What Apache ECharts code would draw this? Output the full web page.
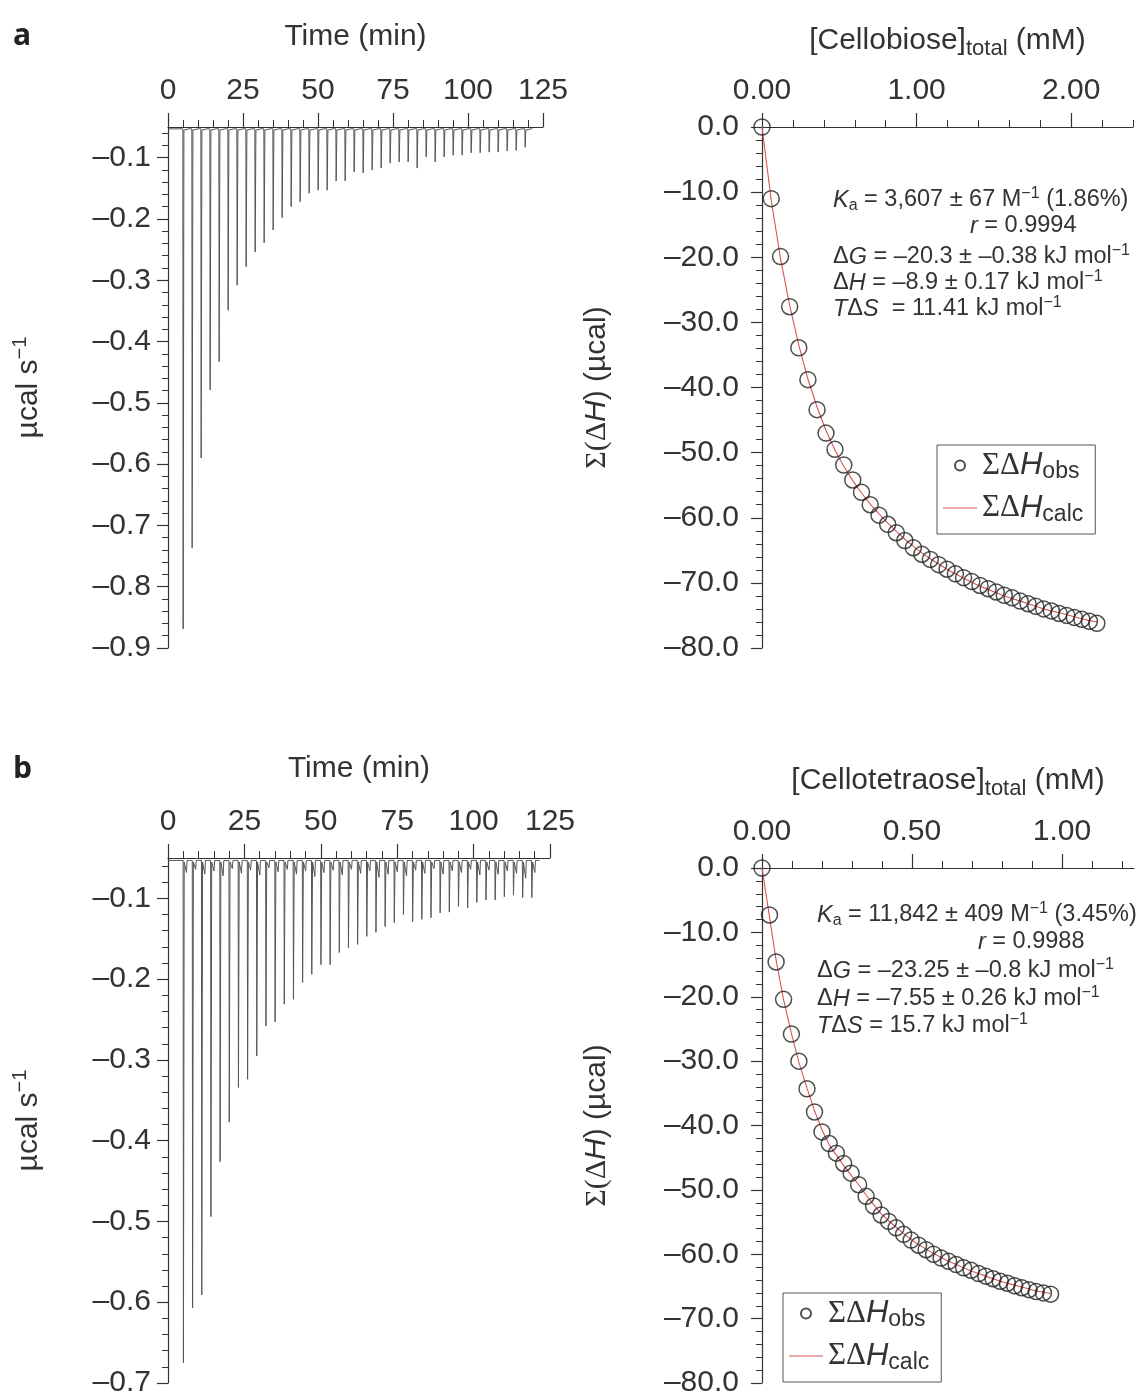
<!DOCTYPE html>
<html>
<head>
<meta charset="utf-8">
<script src="https://cdn.jsdelivr.net/npm/echarts@6/dist/echarts.min.js"></script>
<style>
  html, body { margin: 0; padding: 0; background: #fff; }
  #main { width: 1138px; height: 1398px; }
</style>
</head>
<body>
<div id="main"></div>
<script>
// ---- panel a, left: raw ITC thermogram (cellobiose) ----
var injTimeA = [5, 8, 11, 14, 17, 20, 23, 26, 29, 32, 35, 38, 41, 44, 47, 50, 53, 56, 59, 62,
  65, 68, 71, 74, 77, 80, 83, 86, 89, 92, 95, 98, 101, 104, 107, 110, 113, 116, 119];
var peakA = [-0.869, -0.737, -0.590, -0.479, -0.433, -0.349, -0.308, -0.278, -0.254, -0.239,
  -0.218, -0.198, -0.180, -0.172, -0.158, -0.153, -0.153, -0.138, -0.138, -0.123,
  -0.125, -0.120, -0.117, -0.109, -0.107, -0.107, -0.117, -0.099, -0.107, -0.099,
  -0.096, -0.096, -0.092, -0.092, -0.091, -0.091, -0.089, -0.088, -0.083];
var baseA = -0.053;

// ---- panel b, left: raw ITC thermogram (cellotetraose) ----
var injTimeB = [5, 8, 11, 14, 17, 20, 23, 26, 29, 32, 35, 38, 41, 44, 47, 50, 53, 56, 59, 62,
  65, 68, 71, 74, 77, 80, 83, 86, 89, 92, 95, 98, 101, 104, 107, 110, 113, 116, 119];
var peakB = [-0.675, -0.607, -0.591, -0.494, -0.426, -0.377, -0.334, -0.324, -0.295, -0.258,
  -0.253, -0.231, -0.225, -0.204, -0.194, -0.182, -0.182, -0.167, -0.161, -0.157,
  -0.147, -0.142, -0.135, -0.130, -0.120, -0.129, -0.126, -0.124, -0.118, -0.117,
  -0.110, -0.112, -0.105, -0.102, -0.102, -0.098, -0.096, -0.099, -0.099];
// small baseline wiggles after each injection
var wiggleB = [-0.068, -0.064, -0.070, -0.066, -0.072, -0.063, -0.069, -0.065, -0.071, -0.062,
  -0.067, -0.064, -0.070, -0.066, -0.073, -0.068, -0.065, -0.071, -0.064, -0.069,
  -0.066, -0.074, -0.070, -0.067, -0.072, -0.065, -0.069, -0.063, -0.070, -0.066,
  -0.068, -0.064, -0.071, -0.065, -0.070, -0.066, -0.069, -0.075, -0.068];
var baseB = -0.053;

// ---- panel a, right: cumulative heat vs [cellobiose] ----
var concA = [0, 0.06, 0.12, 0.179, 0.238, 0.297, 0.356, 0.414, 0.472, 0.529, 0.587, 0.644, 0.7,
  0.757, 0.813, 0.869, 0.924, 0.979, 1.034, 1.089, 1.143, 1.197, 1.251, 1.304, 1.357, 1.41,
  1.463, 1.515, 1.567, 1.618, 1.67, 1.721, 1.771, 1.822, 1.872, 1.922, 1.971, 2.02, 2.069,
  2.118, 2.166];
var obsA = [0, -11.0, -19.9, -27.6, -33.9, -38.8, -43.4, -47.0, -49.5, -51.9, -54.2, -56.1,
  -58.0, -59.6, -61.0, -62.3, -63.5, -64.6, -65.6, -66.4, -67.2, -67.9, -68.6, -69.2, -69.8,
  -70.4, -70.9, -71.4, -71.9, -72.3, -72.8, -73.2, -73.6, -74.0, -74.3, -74.7, -75.0, -75.3,
  -75.6, -75.9, -76.2];
var calcA = [0, -11.3, -20.2, -27.4, -33.5, -38.7, -43.0, -46.6, -49.6, -52.1, -54.3, -56.2,
  -57.9, -59.4, -60.8, -62.1, -63.3, -64.4, -65.4, -66.3, -67.1, -67.9, -68.6, -69.3, -69.9,
  -70.5, -71.0, -71.5, -72.0, -72.4, -72.8, -73.2, -73.6, -74.0, -74.3, -74.6, -74.9, -75.2,
  -75.5, -75.8, -76.0];

// ---- panel b, right: cumulative heat vs [cellotetraose] ----
var concB = [0, 0.025, 0.047, 0.072, 0.098, 0.123, 0.15, 0.175, 0.2, 0.224, 0.248, 0.272,
  0.297, 0.322, 0.347, 0.372, 0.397, 0.422, 0.447, 0.472, 0.497, 0.522, 0.547, 0.572, 0.597,
  0.622, 0.647, 0.672, 0.697, 0.722, 0.746, 0.77, 0.794, 0.818, 0.842, 0.866, 0.89, 0.914,
  0.938, 0.962];
var obsB = [0, -7.3, -14.6, -20.4, -25.8, -30.0, -34.3, -37.9, -41.0, -42.8, -44.3, -45.9,
  -47.4, -49.2, -51.0, -52.5, -53.9, -54.9, -55.9, -56.9, -57.8, -58.6, -59.3, -60.0, -60.6,
  -61.1, -61.6, -62.1, -62.5, -63.0, -63.4, -63.8, -64.2, -64.5, -64.9, -65.2, -65.5, -65.8,
  -66.0, -66.2];
var calcB = [0, -7.6, -14.3, -20.5, -25.7, -30.2, -34.2, -37.7, -40.7, -43.0, -44.6, -46.2,
  -47.7, -49.2, -50.8, -52.3, -53.7, -54.8, -55.8, -56.8, -57.7, -58.5, -59.2, -59.9, -60.5,
  -61.1, -61.6, -62.1, -62.6, -63.0, -63.4, -63.8, -64.2, -64.5, -64.8, -65.1, -65.4, -65.7,
  -65.9, -66.1];

// ---- tick labels ----
var timeTicks = [0, 25, 50, 75, 100, 125];
var powerTicksA = [-0.9, -0.8, -0.7, -0.6, -0.5, -0.4, -0.3, -0.2, -0.1];
var powerTicksB = [-0.7, -0.6, -0.5, -0.4, -0.3, -0.2, -0.1];
var heatTicks = [-80, -70, -60, -50, -40, -30, -20, -10, 0];
var concTicksA = [0, 1, 2];
var concTicksB = [0, 0.5, 1];

var FONT = '"Liberation Sans", Arial, sans-serif';
var INK = '#333';
var FIT_RED = '#d65555';

function steps(from, to, step) {
  var out = [];
  var n = Math.round((to - from) / step);
  for (var i = 0; i <= n; i++) out.push(+(from + i * step).toFixed(4));
  return out;
}

function fmt(digits) {
  return function (v) { return (v < 0 ? '\u2013' : '') + Math.abs(v).toFixed(digits); };
}

// thermogram line: flat baseline with a sharp dip at every injection
function thermogram(times, depths, base, wiggles) {
  var pts = [[0.2, base]];
  times.forEach(function (t, i) {
    pts.push([t - 0.05, base]);
    pts.push([t + 0.05, depths[i]]);
    pts.push([t + 0.3, base - 0.002]);
    if (wiggles) {
      pts.push([t + 0.9, base]);
      pts.push([t + 1.05, wiggles[i]]);
      pts.push([t + 1.25, base]);
    }
    pts.push([t + 2.0, base]);
  });
  pts.push([121.5, base]);
  return pts;
}

function zip(xs, ys) {
  return xs.map(function (x, i) { return [x, ys[i]]; });
}

var nameRich = {
  t: { fontSize: 30, fontFamily: FONT, color: INK, lineHeight: 38, verticalAlign: 'middle' },
  it: { fontSize: 30, fontFamily: FONT, fontStyle: 'italic', color: INK, lineHeight: 38, verticalAlign: 'middle' },
  sg: { fontSize: 30, fontFamily: '"Liberation Serif", serif', color: INK, lineHeight: 38, verticalAlign: 'middle' },
  sub: { fontSize: 22, fontFamily: FONT, color: INK, lineHeight: 22, verticalAlign: 'bottom' },
  sup: { fontSize: 20, fontFamily: FONT, color: INK, lineHeight: 20, verticalAlign: 'top' }
};

function topAxes(grid, min, max, ticks, minors, digits, name, gap) {
  return [{
    type: 'value', gridIndex: grid, position: 'top', min: min, max: max,
    axisLine: { show: true, onZero: false, lineStyle: { color: INK, width: 1.2 } },
    axisTick: { show: true, length: 14, customValues: ticks, lineStyle: { color: INK, width: 1.2 } },
    axisLabel: { customValues: ticks, formatter: fmt(digits), fontSize: 30, fontFamily: FONT, color: INK, margin: 21 },
    splitLine: { show: false },
    name: name, nameLocation: 'middle', nameGap: gap,
    nameTextStyle: { fontSize: 30, fontFamily: FONT, color: INK, rich: nameRich }
  }, {
    type: 'value', gridIndex: grid, position: 'top', min: min, max: max,
    axisLine: { show: false },
    axisTick: { show: true, length: 7, customValues: minors, lineStyle: { color: INK, width: 1 } },
    axisLabel: { show: false }, splitLine: { show: false }
  }];
}

function leftAxes(grid, min, max, ticks, minors, digits, margin, name, gap) {
  return [{
    type: 'value', gridIndex: grid, position: 'left', min: min, max: max,
    axisLine: { show: true, onZero: false, lineStyle: { color: INK, width: 1.2 } },
    axisTick: { show: true, length: 11, customValues: ticks, lineStyle: { color: INK, width: 1.2 } },
    axisLabel: { customValues: ticks, formatter: fmt(digits), fontSize: 30, fontFamily: FONT, color: INK, margin: margin },
    splitLine: { show: false },
    name: name, nameLocation: 'middle', nameGap: gap, nameRotate: 90,
    nameTextStyle: { fontSize: 30, fontFamily: FONT, color: INK, rich: nameRich }
  }, {
    type: 'value', gridIndex: grid, position: 'left', min: min, max: max,
    axisLine: { show: false },
    axisTick: { show: true, length: 6, customValues: minors, lineStyle: { color: INK, width: 1 } },
    axisLabel: { show: false }, splitLine: { show: false }
  }];
}

var legendRich = {
  s: { fontFamily: '"Liberation Serif", serif', fontSize: 31, color: INK, lineHeight: 36, verticalAlign: 'middle' },
  i: { fontFamily: FONT, fontStyle: 'italic', fontSize: 31, color: INK, lineHeight: 36, verticalAlign: 'middle' },
  b: { fontFamily: FONT, fontSize: 23, color: INK, lineHeight: 23, verticalAlign: 'bottom' }
};

function legendFor(obsName, calcName, left, top) {
  return {
    data: [
      { name: obsName, icon: 'circle' },
      { name: calcName, icon: 'path://M0,0 L36,0 L36,1.3 L0,1.3 Z' }
    ],
    orient: 'vertical', left: left, top: top,
    itemWidth: 34, itemHeight: 10, itemGap: 9,
    padding: [5, 12, 8, 6],
    borderColor: '#555', borderWidth: 1,
    selectedMode: false,
    formatter: function (n) {
      return n === obsName ? '{s|\u03A3\u0394}{i|H}{b|obs}' : '{s|\u03A3\u0394}{i|H}{b|calc}';
    },
    textStyle: { rich: legendRich }
  };
}

var annRich = {
  t: { fontSize: 23.5, fontFamily: FONT, fill: INK, lineHeight: 28, verticalAlign: 'middle' },
  i: { fontSize: 23.5, fontFamily: FONT, fontStyle: 'italic', fill: INK, lineHeight: 28, verticalAlign: 'middle' },
  sub: { fontSize: 16, fontFamily: FONT, fill: INK, lineHeight: 16, verticalAlign: 'bottom' },
  sup: { fontSize: 16, fontFamily: FONT, fill: INK, lineHeight: 16, verticalAlign: 'top' }
};

function ann(left, top, text) {
  return { type: 'text', left: left, top: top, style: { text: text, rich: annRich, fill: INK } };
}

var xAxes = []
  .concat(topAxes(0, 0, 125, timeTicks, steps(0, 125, 5), 0, '{t|Time (min)}', 71))
  .concat(topAxes(1, 0, 2.4, concTicksA, steps(0, 2.4, 0.2), 2, '{t|[Cellobiose]}{sub|total}{t| (mM)}', 67))
  .concat(topAxes(2, 0, 125, timeTicks, steps(0, 125, 5), 0, '{t|Time (min)}', 70))
  .concat(topAxes(3, 0, 1.24, concTicksB, steps(0, 1.2, 0.1), 2, '{t|[Cellotetraose]}{sub|total}{t| (mM)}', 68));

var yAxes = []
  .concat(leftAxes(0, -0.9, -0.05, powerTicksA, steps(-0.9, -0.06, 0.02), 1, 17, '{t|\u00B5cal s}{sup|\u22121}', 120))
  .concat(leftAxes(1, -80, 0, heatTicks, steps(-80, 0, 2), 1, 23, '{sg|\u03A3(\u0394}{it|H}{t|) (\u00B5cal)}', 146))
  .concat(leftAxes(2, -0.7, -0.05, powerTicksB, steps(-0.7, -0.06, 0.02), 1, 17, '{t|\u00B5cal s}{sup|\u22121}', 120))
  .concat(leftAxes(3, -80, 0, heatTicks, steps(-80, 0, 2), 1, 23, '{sg|\u03A3(\u0394}{it|H}{t|) (\u00B5cal)}', 146));

var chart = echarts.init(document.getElementById('main'), null, { renderer: 'canvas' });

var option = {
  animation: false,
  backgroundColor: '#fff',
  grid: [
    { left: 168, top: 127, width: 375, height: 521 },
    { left: 762, top: 127, width: 371, height: 521 },
    { left: 168, top: 858, width: 382, height: 527 },
    { left: 762, top: 868, width: 372, height: 520 }
  ],
  xAxis: xAxes,
  yAxis: yAxes,
  legend: [
    legendFor('obsA', 'calcA', 937, 445),
    legendFor('obsB', 'calcB', 783, 1293)
  ],
  series: [
    {
      type: 'line', name: 'thermoA', xAxisIndex: 0, yAxisIndex: 0,
      data: thermogram(injTimeA, peakA, baseA), symbol: 'none',
      lineStyle: { color: '#555', width: 1 }
    },
    {
      type: 'line', name: 'thermoB', xAxisIndex: 4, yAxisIndex: 4,
      data: thermogram(injTimeB, peakB, baseB, wiggleB), symbol: 'none',
      lineStyle: { color: '#555', width: 1 }
    },
    {
      type: 'line', name: 'calcA', xAxisIndex: 2, yAxisIndex: 2,
      data: zip(concA, calcA), symbol: 'none', z: 2,
      lineStyle: { color: FIT_RED, width: 1.1 }, itemStyle: { color: FIT_RED }
    },
    {
      type: 'scatter', name: 'obsA', xAxisIndex: 2, yAxisIndex: 2,
      data: zip(concA, obsA), symbol: 'circle', symbolSize: 16, z: 3,
      itemStyle: { color: 'rgba(255,255,255,0)', borderColor: '#222', borderWidth: 1.5 }
    },
    {
      type: 'line', name: 'calcB', xAxisIndex: 6, yAxisIndex: 6,
      data: zip(concB, calcB), symbol: 'none', z: 2,
      lineStyle: { color: FIT_RED, width: 1.1 }, itemStyle: { color: FIT_RED }
    },
    {
      type: 'scatter', name: 'obsB', xAxisIndex: 6, yAxisIndex: 6,
      data: zip(concB, obsB), symbol: 'circle', symbolSize: 16, z: 3,
      itemStyle: { color: 'rgba(255,255,255,0)', borderColor: '#222', borderWidth: 1.5 }
    }
  ],
  graphic: [
    { type: 'text', left: 13, top: 21, style: { text: 'a', font: 'bold 30px "Open Sans", sans-serif', fill: '#222' } },
    { type: 'text', left: 13, top: 754, style: { text: 'b', font: 'bold 30px "Open Sans", sans-serif', fill: '#222' } },

    ann(833, 186, '{i|K}{sub|a}{t| = 3,607 \u00B1 67 M}{sup|\u22121}{t| (1.86%)}'),
    ann(970, 214, '{i|r}{t| = 0.9994}'),
    ann(833, 243, '{t|\u0394}{i|G}{t| = \u201320.3 \u00B1 \u20130.38 kJ mol}{sup|\u22121}'),
    ann(833, 269, '{t|\u0394}{i|H}{t| = \u20138.9 \u00B1 0.17 kJ mol}{sup|\u22121}'),
    ann(833, 295, '{i|T}{t|\u0394}{i|S}{t|  = 11.41 kJ mol}{sup|\u22121}'),

    ann(817, 901, '{i|K}{sub|a}{t| = 11,842 \u00B1 409 M}{sup|\u22121}{t| (3.45%)}'),
    ann(978, 930, '{i|r}{t| = 0.9988}'),
    ann(817, 957, '{t|\u0394}{i|G}{t| = \u201323.25 \u00B1 \u20130.8 kJ mol}{sup|\u22121}'),
    ann(817, 985, '{t|\u0394}{i|H}{t| = \u20137.55 \u00B1 0.26 kJ mol}{sup|\u22121}'),
    ann(817, 1012, '{i|T}{t|\u0394}{i|S}{t| = 15.7 kJ mol}{sup|\u22121}')
  ]
};

chart.setOption(option);
</script>
</body>
</html>
